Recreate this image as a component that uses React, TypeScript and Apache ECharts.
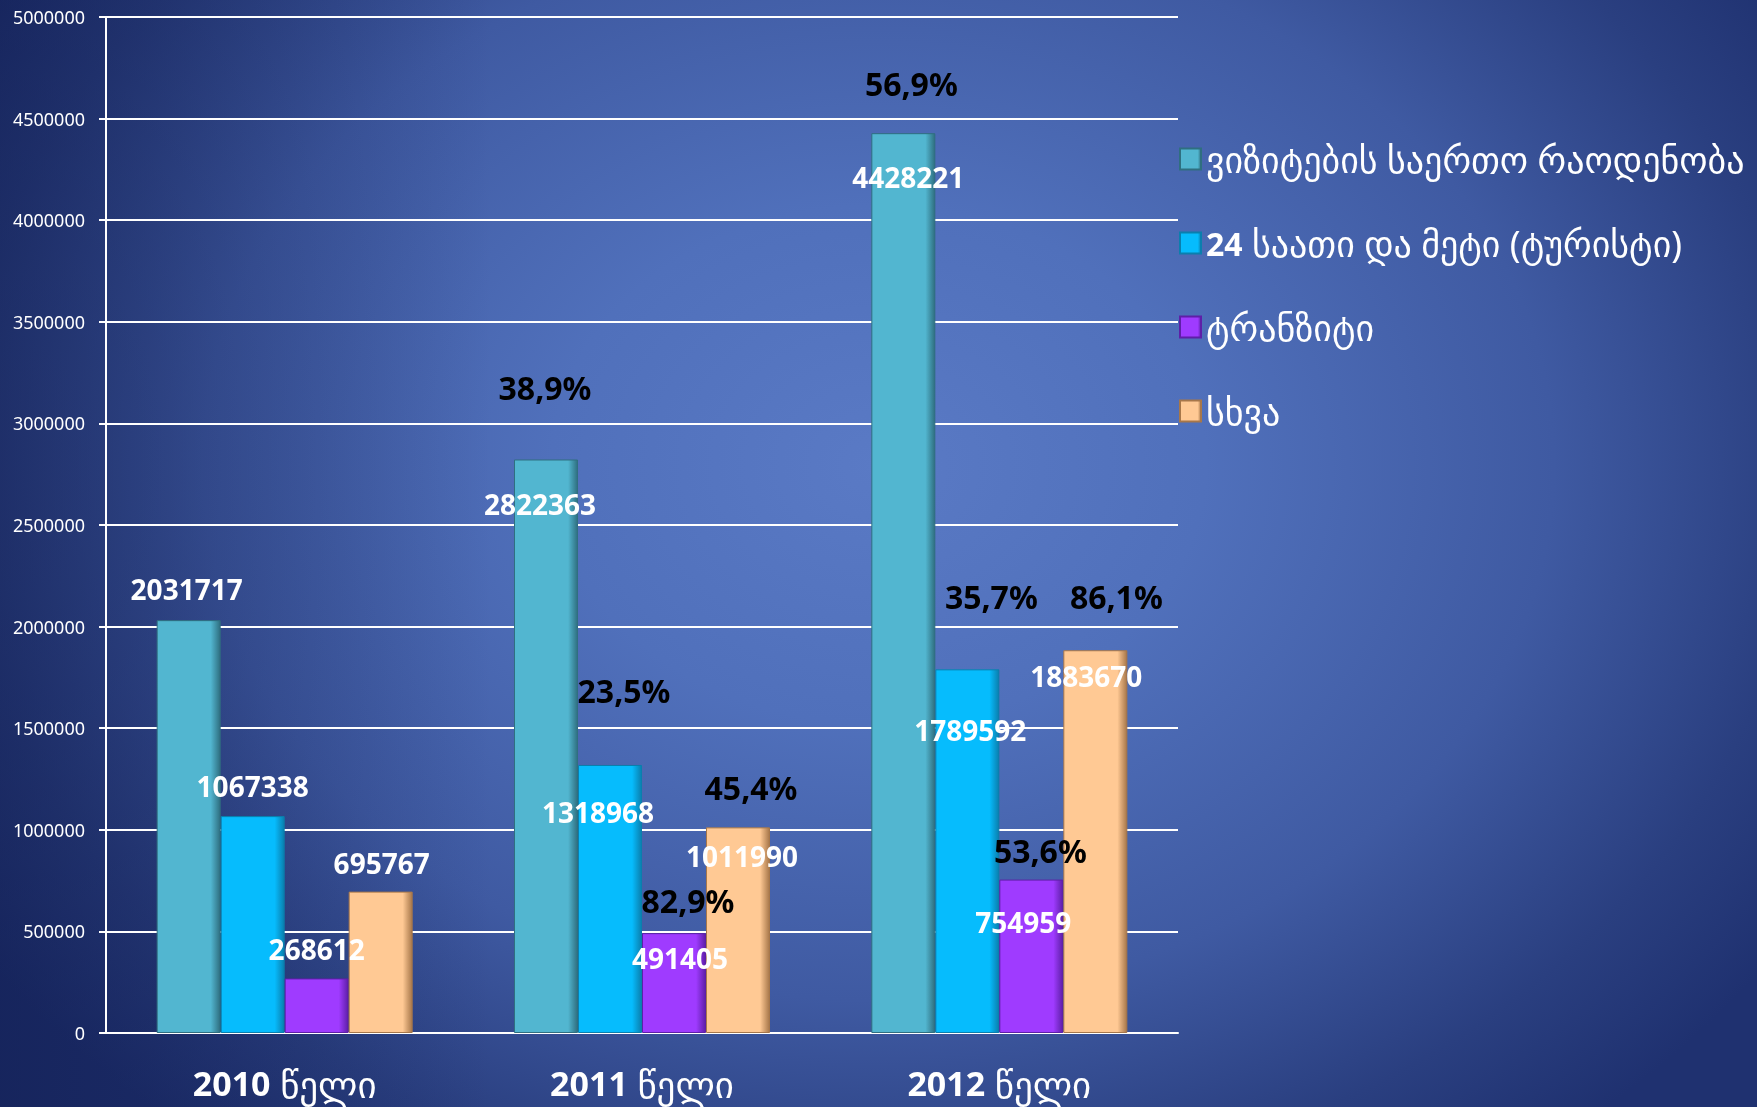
import React, { useEffect, useRef } from "react";
import * as echarts from "echarts";

// ---- data ----
const categories = ["2010", "2011", "2012"];
const yearSuffix = "წელი";
const seriesNames = [
  "ვიზიტების საერთო რაოდენობა",
  "24 საათი და მეტი (ტურისტი)",
  "ტრანზიტი",
  "სხვა",
];
const totalVisits = [2031717, 2822363, 4428221];
const touristVisits = [1067338, 1318968, 1789592];
const transitVisits = [268612, 491405, 754959];
const otherVisits = [695767, 1011990, 1883670];
const totalGrowth = ["", "38,9%", "56,9%"];
const touristGrowth = ["", "23,5%", "35,7%"];
const transitGrowth = ["", "82,9%", "53,6%"];
const otherGrowth = ["", "45,4%", "86,1%"];
const yMin = 0;
const yMax = 5000000;
const yStep = 500000;

// ---- layout / style ----
const seriesValues = [totalVisits, touristVisits, transitVisits, otherVisits];
const seriesGrowth = [totalGrowth, touristGrowth, transitGrowth, otherGrowth];
const seriesColors = ["#52B6D0", "#06BCFD", "#9F3BFF", "#FFC994"];
const seriesBorders = ["#2F6F80", "#0A7FAE", "#5E1FA8", "#A7774A"];
// value label [dx, dy from bar top]
const valueLabelPos = [
  [[-2, -31], [-6, 45], [5, 44]],
  [[0, -30], [-12, 47], [3, 61]],
  [[0, -29], [6, 25], [-8, 42]],
  [[1, -29], [4, 29], [-9, 26]],
];
// growth label [dx, dy from bar top]
const growthLabelPos = [
  [[0, 0], [-1, -72], [8, -50]],
  [[0, 0], [14, -74], [24, -73]],
  [[0, 0], [14, -33], [9, -29]],
  [[0, 0], [13, -40], [21, -54]],
];

const FONT = "'Noto Sans', 'DejaVu Sans', sans-serif";

export default function App() {
  const ref = useRef<HTMLDivElement>(null);

  useEffect(() => {
    if (!ref.current) return;
    const chart = echarts.init(ref.current, null, { renderer: "svg" });

    const series = seriesNames.map((name, si) => ({
      name,
      type: "bar",
      barWidth: 64,
      barGap: "0%",
      itemStyle: {
        color: {
          type: "linear",
          x: 0,
          y: 0,
          x2: 1,
          y2: 0,
          colorStops: [
            { offset: 0, color: seriesColors[si] },
            { offset: 0.85, color: seriesColors[si] },
            { offset: 1, color: seriesBorders[si] },
          ],
        },
        borderColor: seriesBorders[si],
        borderWidth: 1,
      },
      data: seriesValues[si].map((v, ci) => ({
        value: v,
        label: {
          show: true,
          position: ["50%", valueLabelPos[si][ci][1]],
          align: "center",
          verticalAlign: "middle",
          offset: [valueLabelPos[si][ci][0], 0],
          color: "#ffffff",
          fontSize: 28,
          fontWeight: "bold",
          fontFamily: FONT,
          formatter: String(v),
        },
      })),
      markPoint: {
        symbol: "rect",
        symbolSize: 1,
        itemStyle: { color: "rgba(0,0,0,0)" },
        silent: true,
        data: seriesGrowth[si]
          .map((g, ci) => ({ g, ci }))
          .filter((d) => d.g !== "")
          .map(({ g, ci }) => ({
            coord: [categories[ci], seriesValues[si][ci]],
            label: {
              show: true,
              position: "inside",
              formatter: g,
              offset: [growthLabelPos[si][ci][0], growthLabelPos[si][ci][1]],
              color: "#000000",
              fontSize: 32,
              fontWeight: "bold",
              fontFamily: FONT,
            },
          })),
      },
    }));

    chart.setOption({
      animation: false,
      backgroundColor: "transparent",
      grid: {
        left: 106,
        right: 579,
        top: 17,
        bottom: 74,
        containLabel: false,
        outerBoundsMode: "none",
      },
      legend: {
        orient: "vertical",
        left: 1174,
        top: 136,
        itemWidth: 21,
        itemHeight: 21,
        itemGap: 48,
        icon: "rect",
        selectedMode: false,
        data: seriesNames,
        formatter: (name: string) =>
          name.startsWith("24") ? "{b|24}{t|" + name.slice(2) + "}" : "{t|" + name + "}",
        textStyle: {
          color: "#ffffff",
          fontSize: 36,
          lineHeight: 34,
          fontFamily: FONT,
          rich: {
            b: { color: "#ffffff", fontSize: 32, fontWeight: "bold", fontFamily: FONT, lineHeight: 34 },
            t: { color: "#ffffff", fontSize: 36, fontFamily: FONT, lineHeight: 34 },
          },
        },
      },
      xAxis: {
        type: "category",
        data: categories,
        axisLine: { show: true, lineStyle: { color: "#ffffff", width: 2 } },
        axisTick: { show: false },
        axisLabel: {
          margin: 32,
          formatter: (v: string) => "{y|" + v + "}{g| " + yearSuffix + "}",
          rich: {
            y: { color: "#ffffff", fontSize: 34, fontWeight: "bold", fontFamily: FONT, lineHeight: 36 },
            g: { color: "#ffffff", fontSize: 37, fontFamily: FONT, lineHeight: 36 },
          },
        },
      },
      yAxis: {
        type: "value",
        min: yMin,
        max: yMax,
        interval: yStep,
        axisLine: { show: true, lineStyle: { color: "#ffffff", width: 2 } },
        axisTick: { show: true, length: 7, lineStyle: { color: "#ffffff", width: 2 } },
        axisLabel: {
          color: "#ffffff",
          fontSize: 18,
          fontFamily: FONT,
          margin: 21,
          formatter: (v: number) => String(v),
        },
        splitLine: { show: true, lineStyle: { color: "#ffffff", width: 2 } },
      },
      series,
    });

    return () => chart.dispose();
  }, []);

  return (
    <div
      style={{
        position: "fixed",
        left: 0,
        top: 0,
        width: 1757,
        height: 1107,
        background:
          "linear-gradient(to right, rgba(12,22,70,0.45) 0%, rgba(12,22,70,0) 28%), radial-gradient(ellipse 62% 78% at 50% 42%, #5a7ac5 0%, #5070bb 30%, #3f5aa2 62%, #2a3f80 85%, #1f3170 100%)",
      }}
    >
      <div ref={ref} style={{ width: 1757, height: 1107 }} />
    </div>
  );
}
